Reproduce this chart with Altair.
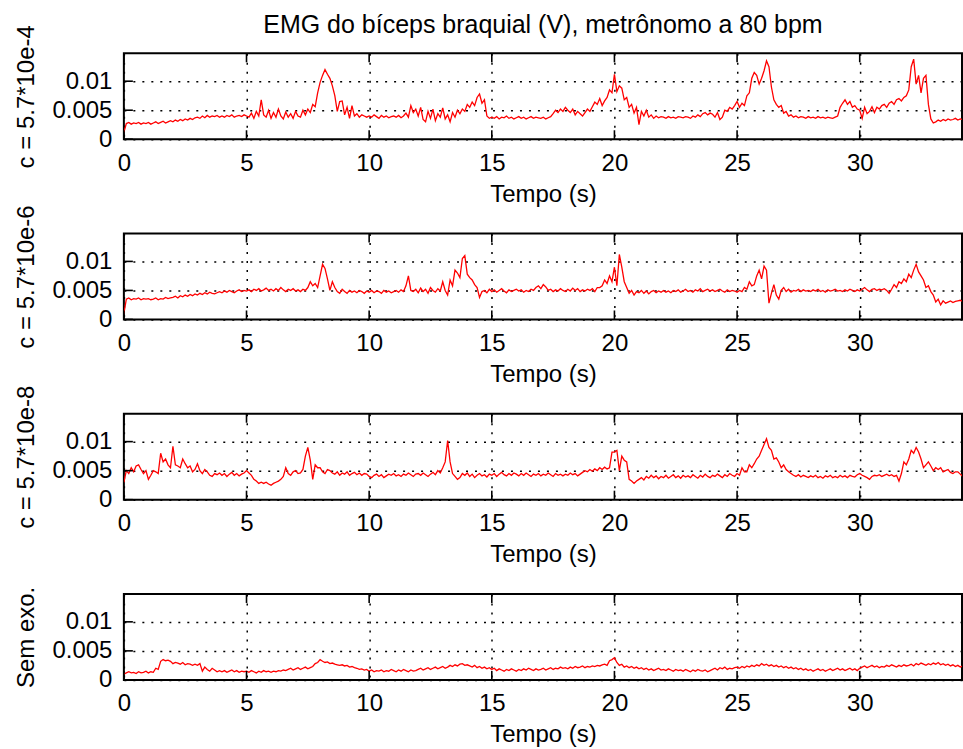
import altair as alt
import pandas as pd

TITLE = "EMG do bíceps braquial (V), metrônomo a 80 bpm"
X_TITLE = "Tempo (s)"
Y_TITLES = ["c = 5.7*10e-4", "c = 5.7*10e-6", "c = 5.7*10e-8", "Sem exo."]
X_TICKS = [0, 5, 10, 15, 20, 25, 30]
Y_TICKS = [0, 0.005, 0.01]
DT = 0.1      # sampling interval of the series below (s)
UNIT = 1e-4   # series values are written in units of 1e-4 V

# EMG envelopes, one row per second (10 samples per row)
EMG_A = [
    12, 27, 29, 26, 28, 27, 29, 26, 28, 27,
    29, 26, 28, 30, 27, 29, 31, 28, 30, 32,
    30, 33, 31, 34, 32, 35, 33, 36, 34, 37,
    38, 36, 40, 37, 41, 38, 40, 39, 41, 38,
    40, 38, 41, 39, 42, 38, 40, 41, 39, 42,
    40, 38, 45, 36, 48, 40, 68, 42, 38, 50,
    36, 46, 38, 52, 40, 35, 47, 38, 44, 36,
    48, 40, 38, 50, 42, 52, 46, 60, 56, 80,
    98, 110, 120, 112, 105, 92, 75, 48, 65, 66,
    42, 55, 36, 58, 40, 44, 38, 42, 40, 38,
    40, 38, 42, 39, 36, 41, 38, 40, 37, 39,
    40, 38, 41, 37, 40, 45, 38, 58, 46, 52,
    40, 55, 34, 30, 48, 36, 52, 32, 44, 38,
    54, 35, 42, 30, 46, 38, 50, 44, 52, 48,
    60, 55, 64, 58, 72, 78, 62, 68, 40, 36,
    38, 36, 39, 35, 38, 37, 40, 36, 38, 35,
    37, 39, 36, 38, 35, 37, 39, 36, 38, 37,
    36, 38, 35, 37, 39, 44, 50, 46, 52, 48,
    55, 50, 46, 52, 42, 48, 44, 40, 46, 52,
    48, 56, 64, 60, 70, 58, 66, 72, 85, 80,
    112, 82, 92, 88, 68, 72, 55, 60, 45, 55,
    25, 48, 40, 50, 38, 42, 36, 40, 37, 39,
    38, 36, 39, 37, 38, 36, 39, 38, 37, 39,
    38, 36, 40, 38, 42, 39, 44, 46, 42, 45,
    43, 38, 46, 34, 38, 50, 48, 55, 52, 58,
    65, 55, 62, 58, 75, 80, 105, 115, 110, 95,
    105, 118, 135, 125, 90, 68, 60, 55, 58, 45,
    48, 40, 42, 38, 40, 37, 39, 38, 36, 39,
    37, 38, 36, 39, 37, 38, 36, 38, 37, 36,
    38, 40, 55, 62, 68, 60, 65, 55, 58, 52,
    50, 36, 55, 44, 48, 56, 46, 55, 52, 58,
    60, 55, 62, 65, 60, 68, 70, 66, 72, 75,
    85, 125, 138, 95, 110, 80, 105, 110, 60, 35,
    28, 30, 33, 31, 34, 32, 35, 33, 34, 36,
    33, 35, 34, 36, 35,
]

EMG_B = [
    10, 35, 37, 34, 36, 35, 37, 34, 36, 35,
    36, 34, 35, 37, 34, 36, 35, 38, 36, 37,
    38, 40, 37, 41, 39, 42, 40, 43, 41, 44,
    42, 45, 43, 46, 44, 47, 45, 44, 46, 48,
    46, 49, 47, 50, 48, 46, 49, 51, 48, 50,
    49, 51, 48, 52, 50, 53, 49, 51, 54, 50,
    52, 49, 53, 50, 55, 51, 48, 52, 50, 53,
    49, 51, 48, 52, 50, 55, 65, 58, 62, 55,
    75, 95, 88, 70, 50, 65, 55, 48, 45, 52,
    48, 45, 50, 47, 49, 46, 50, 48, 45, 49,
    47, 50, 46, 49, 48, 45, 50, 47, 49, 46,
    48, 50, 47, 51, 48, 58, 75, 50, 48, 52,
    46, 54, 48, 52, 45, 55, 50, 47, 53, 49,
    65, 50, 42, 68, 58, 85, 80, 72, 105, 110,
    78, 72, 68, 60, 55, 38, 48, 50, 46, 52,
    48, 51, 47, 50, 53, 49, 46, 51, 48, 50,
    52, 49, 51, 47, 50, 48, 52, 50, 55, 58,
    53, 60, 56, 50, 52, 48, 51, 49, 53, 50,
    48, 52, 49, 54, 50, 53, 48, 51, 49, 52,
    50, 53, 48, 55, 55, 58, 68, 62, 75, 65,
    90, 58, 112, 90, 65, 55, 45, 50, 42, 48,
    46, 50, 45, 49, 44, 48, 50, 46, 49, 47,
    50, 47, 49, 46, 50, 48, 51, 47, 49, 52,
    48, 50, 47, 51, 49, 53, 48, 50, 52, 49,
    51, 48, 50, 52, 49, 47, 51, 48, 50, 49,
    47, 50, 48, 55, 52, 65, 58, 60, 75, 85,
    70, 92, 85, 28, 45, 60, 42, 35, 50, 55,
    48, 52, 47, 50, 49, 52, 48, 51, 49, 50,
    48, 51, 49, 52, 48, 50, 47, 51, 49, 50,
    52, 49, 50, 48, 51, 49, 52, 50, 48, 51,
    49, 52, 55, 51, 48, 52, 53, 50, 52, 51,
    53, 50, 45, 52, 60, 55, 65, 62, 70, 65,
    78, 72, 85, 95, 82, 75, 68, 55, 58, 48,
    42, 30, 35, 25, 32, 28, 30, 32, 29, 31,
    32, 33, 31, 34, 35,
]

EMG_C = [
    30, 50, 45, 55, 48, 58, 60, 52, 45, 50,
    35, 42, 50, 48, 45, 80, 65, 70, 60, 55,
    92, 60, 58, 55, 70, 62, 55, 58, 48, 52,
    62, 50, 45, 52, 48, 42, 40, 45, 43, 46,
    42, 45, 40, 44, 47, 42, 45, 41, 44, 46,
    50, 46, 42, 35, 32, 28, 30, 28, 30, 27,
    25, 28, 30, 32, 35, 40, 55, 45, 42, 48,
    50, 45, 46, 52, 75, 90, 68, 35, 60, 55,
    55, 48, 45, 52, 50, 46, 44, 48, 42, 46,
    44, 48, 42, 45, 47, 43, 46, 42, 45, 44,
    40, 38, 42, 44, 40, 43, 38, 41, 44, 42,
    45, 41, 43, 40, 44, 42, 46, 43, 40, 44,
    45, 42, 46, 43, 40, 44, 47, 43, 50, 46,
    55, 65, 102, 65, 45, 40, 35, 38, 45, 42,
    46, 40, 44, 38, 42, 45, 41, 43, 39, 44,
    42, 45, 40, 44, 47, 43, 41, 45, 42, 46,
    44, 41, 45, 42, 46, 43, 40, 44, 42, 45,
    41, 44, 42, 46, 43, 40, 45, 42, 44, 41,
    44, 42, 46, 43, 45, 41, 44, 47, 50, 48,
    52, 49, 53, 50, 55, 52, 56, 53, 55, 82,
    82, 85, 50, 75, 68, 65, 35, 32, 28, 32,
    35, 38, 34, 40, 37, 42, 38, 41, 36, 40,
    38, 42, 37, 40, 43, 38, 41, 37, 42, 39,
    41, 38, 43, 40, 37, 42, 39, 44, 40, 38,
    42, 40, 44, 41, 38, 43, 40, 45, 42, 40,
    45, 42, 55, 48, 48, 60, 55, 62, 70, 75,
    85, 95, 105, 90, 85, 70, 72, 65, 55, 60,
    52, 48, 45, 42, 40, 43, 39, 42, 40, 38,
    41, 39, 42, 38, 40, 37, 41, 39, 42, 38,
    40, 38, 42, 39, 41, 38, 42, 40, 39, 43,
    45, 42, 40, 38, 35, 40, 42, 41, 43, 40,
    42, 44, 41, 43, 40, 42, 32, 45, 65, 60,
    70, 85, 80, 90, 82, 70, 55, 60, 65, 58,
    50, 55, 52, 55, 48, 50, 52, 47, 45, 48,
    48, 44, 40, 42, 38,
]

EMG_D = [
    10, 12, 14, 12, 13, 11, 14, 12, 13, 15,
    12, 14, 13, 20, 18, 32, 35, 33, 34, 32,
    28, 30, 29, 27, 30, 26, 28, 27, 25, 27,
    25, 28, 15, 22, 18, 15, 20, 17, 14, 16,
    14, 16, 13, 15, 17, 14, 16, 13, 15, 14,
    15, 13, 16, 14, 12, 15, 13, 16, 14, 15,
    13, 15, 14, 16, 15, 17, 16, 18, 20, 17,
    19, 21, 18, 20, 22, 19, 21, 23, 28, 30,
    35, 32, 30, 31, 28, 29, 27, 26, 25, 26,
    24, 25, 22, 23, 21, 20, 18, 19, 17, 18,
    15, 17, 14, 16, 15, 17, 14, 16, 15, 18,
    16, 14, 17, 15, 18, 16, 14, 17, 15, 16,
    18, 20, 17, 19, 21, 18, 20, 22, 19, 21,
    23, 20, 22, 25, 23, 26, 24, 27, 28, 25,
    26, 24, 22, 25, 21, 23, 20, 22, 19, 21,
    18, 20, 16, 19, 17, 15, 18, 16, 19, 17,
    15, 18, 16, 19, 17, 20, 18, 16, 19, 17,
    18, 20, 17, 19, 21, 18, 20, 19, 22, 20,
    21, 19, 22, 20, 23, 21, 22, 24, 21, 23,
    22, 24, 23, 25, 24, 26, 27, 25, 33, 35,
    38, 30, 25, 27, 22, 24, 21, 23, 20, 22,
    19, 21, 18, 20, 17, 19, 16, 18, 20, 17,
    18, 16, 19, 17, 15, 18, 16, 17, 15, 18,
    16, 14, 17, 15, 18, 16, 15, 17, 14, 16,
    18, 20, 17, 21, 19, 22, 18, 20, 19, 21,
    22, 20, 23, 21, 24, 22, 25, 23, 26, 24,
    28, 25, 27, 24, 26, 23, 25, 22, 24, 21,
    23, 20, 22, 19, 21, 18, 20, 17, 19, 16,
    18, 15, 17, 19, 16, 18, 15, 17, 19, 16,
    18, 20, 17, 19, 16, 18, 20, 17, 19, 16,
    20, 22, 24, 21, 23, 25, 22, 24, 21, 23,
    22, 25, 23, 26, 24, 22, 25, 23, 26, 24,
    25, 27, 24, 28, 26, 29, 27, 25, 28, 26,
    29, 27, 30, 26, 28, 25, 27, 24, 26, 23,
    25, 22, 24, 21, 23,
]

SERIES = [EMG_A, EMG_B, EMG_C, EMG_D]

FONT = "Liberation Sans"
W, H = 839, 86
XMAX = 34.17
YMAX = 0.0148
TICK_LEN = 9


def panel(vals, ytitle, add_title=False):
    df = pd.DataFrame({
        "t": [round(i * DT, 2) for i in range(len(vals))],
        "v": [v * UNIT for v in vals],
    })
    xs = alt.Scale(domain=[0, XMAX], nice=False, zero=False)
    ys = alt.Scale(domain=[0, YMAX], nice=False, zero=False)
    x_enc = alt.X("t:Q", scale=xs, title=X_TITLE,
                  axis=alt.Axis(values=X_TICKS, format="d", titleY=43, titleX=W / 2))
    y_enc = alt.Y("v:Q", scale=ys, title=ytitle,
                  axis=alt.Axis(values=Y_TICKS, format=".3~f", titleX=-97, titleY=H / 2,
                                titleAngle=270, titleBaseline="middle"))
    line = alt.Chart(df).mark_line(color="#ff0000", strokeWidth=1.3, clip=True).encode(
        x=x_enc, y=y_enc)
    xt = pd.DataFrame({"t": X_TICKS})
    yt = pd.DataFrame({"v": Y_TICKS})
    tick_b = alt.Chart(xt).mark_rule(color="black", strokeWidth=1.6).encode(
        x=x_enc, y=alt.value(H), y2=alt.value(H - TICK_LEN))
    tick_t = alt.Chart(xt).mark_rule(color="black", strokeWidth=1.6).encode(
        x=x_enc, y=alt.value(0), y2=alt.value(TICK_LEN))
    tick_l = alt.Chart(yt).mark_rule(color="black", strokeWidth=1.6).encode(
        y=y_enc, x=alt.value(0), x2=alt.value(TICK_LEN))
    layers = [line, tick_b, tick_t, tick_l]
    if add_title:
        tdf = pd.DataFrame({"s": [TITLE]})
        title = alt.Chart(tdf).mark_text(font=FONT, fontSize=25, color="black",
                                         align="center", baseline="alphabetic").encode(
            x=alt.value(W / 2), y=alt.value(-20), text="s:N")
        layers.append(title)
    return alt.layer(*layers).properties(width=W, height=H)


panels = [panel(s, t, i == 0) for i, (s, t) in enumerate(zip(SERIES, Y_TITLES))]

chart = alt.vconcat(*panels, spacing=94.4, bounds="flush").properties(
    padding={"left": 14, "top": 12, "right": 0, "bottom": 0},
    background="white",
).configure_view(
    stroke="black", strokeWidth=2,
).configure_axis(
    domain=False, ticks=False, tickSize=0,
    labelFont=FONT, labelFontSize=24, labelColor="black", labelPadding=12,
    labelFlush=False, labelOverlap=False,
    titleFont=FONT, titleFontSize=24, titleFontWeight="normal", titleColor="black",
    grid=True, gridColor="black", gridDash=[2, 7], gridWidth=1.5, gridOpacity=1,
)

chart.save("out.html", embed_options={"renderer": "svg", "actions": False})
